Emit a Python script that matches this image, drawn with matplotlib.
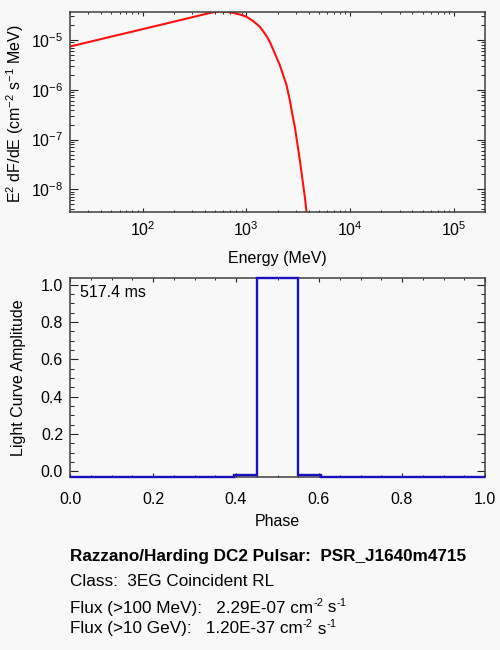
import numpy as np
import matplotlib
matplotlib.use("Agg")
import matplotlib.pyplot as plt
from matplotlib.ticker import (LogLocator, NullFormatter, MultipleLocator,
                               FuncFormatter, FormatStrFormatter)

plt.rcParams['font.family'] = ['Liberation Sans', 'DejaVu Sans']
plt.rcParams['mathtext.fontset'] = 'custom'
plt.rcParams['mathtext.rm'] = 'Liberation Sans'
plt.rcParams['mathtext.it'] = 'Liberation Sans'
plt.rcParams['mathtext.bf'] = 'Liberation Sans:bold'
plt.rcParams['mathtext.default'] = 'regular'

# Spectrum readings (Energy in MeV, E^2 dF/dE)
energy = [20, 30, 50, 70, 100, 150, 200, 300, 355, 450, 500, 570, 650, 750,
          870, 1000, 1150, 1349, 1550, 1685, 1900, 2103, 2270, 2442, 2626,
          2825, 2935, 3283, 3480, 3667, 3808, 3900]
e2dfde = [7.4e-6, 9.05e-6, 1.17e-5, 1.38e-5, 1.65e-5, 2.02e-5, 2.33e-5,
          2.86e-5, 3.12e-5, 3.50e-5, 3.66e-5, 3.75e-5, 3.68e-5, 3.50e-5,
          3.25e-5, 2.94e-5, 2.45e-5, 1.85e-5, 1.25e-5, 9.24e-6, 5.15e-6,
          3.15e-6, 1.96e-6, 1.25e-6, 6.24e-7, 2.68e-7, 1.82e-7, 3.89e-8,
          1.59e-8, 7.1e-9, 3.56e-9, 2.3e-9]

# Light curve (phase bin edges and amplitudes)
phase_edges = [0.0, 0.395, 0.45, 0.55, 0.605, 1.0]
amplitude = [-0.03, -0.02, 1.034, -0.02, -0.03]

period_text = "517.4 ms"
title_line = "Razzano/Harding DC2 Pulsar:  PSR_J1640m4715"
class_line = "Class:  3EG Coincident RL"
flux100 = "2.29E-07"
flux10g = "1.20E-37"

bg = '#f8f8f8'
fig = plt.figure(figsize=(5, 6.5), dpi=100, facecolor=bg)
W, H = 500, 650

def add_ax(l, t, r, b):
    return fig.add_axes([l / W, 1 - b / H, (r - l) / W, (b - t) / H])

fs = 11.5
frame_col = '#404040'

# Top: spectrum
ax1 = add_ax(70, 12, 485, 212)
ax1.set_facecolor(bg)
ax1.plot(energy, e2dfde, color='#ff1010', lw=1.5)
ax1.set_xscale('log')
ax1.set_yscale('log')
ax1.set_xlim(20, 2e5)
ax1.set_ylim(3.5e-9, 3.65e-5)
ax1.xaxis.set_major_locator(LogLocator(base=10, numticks=10))
ax1.xaxis.set_minor_locator(LogLocator(base=10, subs=np.arange(2, 10), numticks=20))
ax1.yaxis.set_major_locator(LogLocator(base=10, numticks=10))
ax1.yaxis.set_minor_locator(LogLocator(base=10, subs=np.arange(2, 10), numticks=20))
logfmt = FuncFormatter(lambda v, p: r'$10^{%d}$' % int(round(np.log10(v))))
ax1.xaxis.set_major_formatter(logfmt)
ax1.yaxis.set_major_formatter(logfmt)
ax1.xaxis.set_minor_formatter(NullFormatter())
ax1.yaxis.set_minor_formatter(NullFormatter())
ax1.set_xlabel('Energy (MeV)', fontsize=fs)
ax1.set_ylabel(r'E$^{2}$ dF/dE (cm$^{-2}$ s$^{-1}$ MeV)', fontsize=fs)
ax1.xaxis.set_label_coords(0.5, -0.23)
ax1.xaxis.label.set_va('center')
ax1.yaxis.set_label_coords(-0.1325, 0.49)
ax1.yaxis.label.set_va('center')

# Bottom: light curve
ax2 = add_ax(70, 278, 485, 477)
ax2.set_facecolor(bg)
ax2.stairs(amplitude, phase_edges, color='#1a10c0', lw=1.7, baseline=None,
           clip_on=False, zorder=4)
ax2.set_xlim(0, 1)
ax2.set_ylim(-0.03, 1.036)
ax2.xaxis.set_major_locator(MultipleLocator(0.2))
ax2.xaxis.set_minor_locator(MultipleLocator(0.05))
ax2.yaxis.set_major_locator(MultipleLocator(0.2))
ax2.yaxis.set_minor_locator(MultipleLocator(0.05))
ax2.xaxis.set_major_formatter(FormatStrFormatter('%.1f'))
ax2.yaxis.set_major_formatter(FormatStrFormatter('%.1f'))
ax2.set_xlabel('Phase', fontsize=fs)
ax2.set_ylabel('Light Curve Amplitude', fontsize=fs)
ax2.xaxis.set_label_coords(0.5, -0.225)
ax2.xaxis.label.set_va('center')
ax2.yaxis.set_label_coords(-0.125, 0.5)
ax2.yaxis.label.set_va('center')
ax2.text(0.024, 0.965, period_text, transform=ax2.transAxes, fontsize=fs,
         va='top', ha='left')

for ax in (ax1, ax2):
    for sp in ax.spines.values():
        sp.set_color(frame_col)
        sp.set_linewidth(1.1)
    ax.tick_params(which='both', direction='in', top=True, right=True,
                   colors='#222222', labelsize=fs, labelcolor='black')
    ax.tick_params(axis='y', which='major', length=5.8, width=0.8, pad=5)
    ax.tick_params(axis='y', which='minor', length=2.9, width=0.7)
    ax.tick_params(axis='x', which='major', length=3.2, width=0.8)
    ax.tick_params(axis='x', which='minor', length=1.7, width=0.7)

ax1.tick_params(axis='x', which='major', pad=6)
ax2.tick_params(axis='x', which='major', pad=11)

# Info text
fs_info = 12.3
fs_sup = 8
renderer = fig.canvas.get_renderer()

def piece_line(x_px, y_px, pieces):
    """pieces: list of (text, superscript?)"""
    x = x_px
    for txt, sup in pieces:
        if sup:
            t = fig.text(x / W, 1 - (y_px - 5) / H, txt, fontsize=fs_sup,
                         va='center', ha='left')
        else:
            t = fig.text(x / W, 1 - y_px / H, txt, fontsize=fs_info,
                         va='center', ha='left')
        bb = t.get_window_extent(renderer=renderer)
        x += bb.width

fig.text(70 / W, 1 - 557 / H, title_line, fontsize=fs_info, fontweight='bold',
         va='center', ha='left')
fig.text(70 / W, 1 - 582 / H, class_line, fontsize=fs_info, va='center', ha='left')
piece_line(70, 608, [('Flux (>100 MeV):   ' + flux100 + ' cm', False),
                     ('-2', True), (' s', False), ('-1', True)])
piece_line(70, 629, [('Flux (>10 GeV):   ' + flux10g + ' cm', False),
                     ('-2', True), (' s', False), ('-1', True)])

fig.savefig('out.png', dpi=100, facecolor=bg)
